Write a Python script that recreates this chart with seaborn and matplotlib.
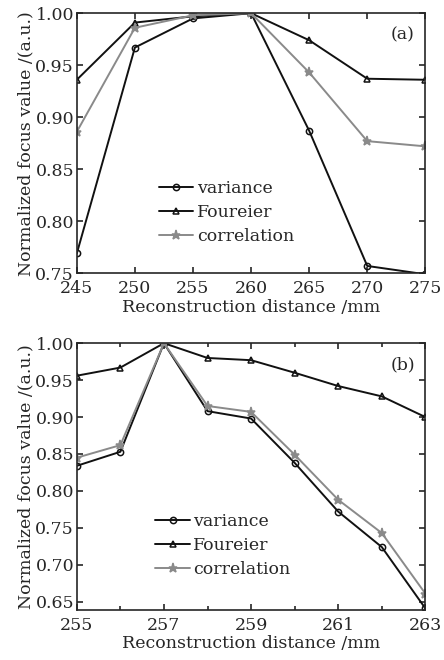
import pandas as pd
import matplotlib
matplotlib.use('Agg')
import matplotlib.pyplot as plt
import seaborn as sns

# panel (a)
dist_a = [245, 250, 255, 260, 265, 270, 275]
variance_a = [0.769, 0.967, 0.995, 1.0, 0.887, 0.757, 0.749]
fourier_a = [0.936, 0.991, 0.997, 1.0, 0.974, 0.937, 0.936]
correlation_a = [0.886, 0.986, 0.998, 1.0, 0.943, 0.877, 0.872]

# panel (b)
dist_b = [255, 256, 257, 258, 259, 260, 261, 262, 263]
variance_b = [0.834, 0.853, 1.0, 0.908, 0.898, 0.838, 0.772, 0.724, 0.641]
fourier_b = [0.956, 0.967, 1.0, 0.980, 0.977, 0.960, 0.942, 0.928, 0.900]
correlation_b = [0.845, 0.862, 1.0, 0.915, 0.907, 0.849, 0.788, 0.743, 0.661]

sns.set_style('ticks')
plt.rcParams['font.family'] = ['DejaVu Serif']

FS = 12.5

styles = {
    'variance': dict(color='#111111', marker='o', mfc='none', ms=4.5),
    'Foureier': dict(color='#111111', marker='^', mfc='none', ms=5),
    'correlation': dict(color='#8a8a8a', marker='*', ms=6.5),
}

fig = plt.figure(figsize=(4.44, 6.6), dpi=100)
ax_a = fig.add_axes([0.173, 0.586, 0.785, 0.394])
ax_b = fig.add_axes([0.173, 0.076, 0.785, 0.404])

leg_kw = dict(loc='lower left', frameon=False, fontsize=FS, handlelength=2.0,
              handletextpad=0.2, labelspacing=0.4, borderaxespad=0, borderpad=0)


def draw(ax, x, series):
    for name, vals in series.items():
        df = pd.DataFrame({'x': x, 'y': vals})
        st = styles[name]
        sns.lineplot(data=df, x='x', y='y', ax=ax, color=st['color'],
                     marker=st['marker'], markersize=st['ms'],
                     markerfacecolor=st.get('mfc', st['color']),
                     markeredgecolor=st['color'], markeredgewidth=1.1,
                     linewidth=1.4, label=name)
    ax.tick_params(direction='in', top=True, right=True, labelsize=FS,
                   length=4, width=1.2, pad=2)
    ax.tick_params(axis='x', pad=5)
    ax.tick_params(which='minor', direction='in', top=True, right=True,
                   length=3, width=1.2)
    for sp in ax.spines.values():
        sp.set_linewidth(1.2)
    ax.set_xlabel('Reconstruction distance /mm', fontsize=FS, labelpad=1)
    ax.set_ylabel('Normalized focus value /(a.u.)', fontsize=FS, labelpad=1)


draw(ax_a, dist_a, {'variance': variance_a, 'Foureier': fourier_a,
                    'correlation': correlation_a})
ax_a.set_xlim(245, 275)
ax_a.set_ylim(0.75, 1.0)
ax_a.set_xticks([245, 250, 255, 260, 265, 270, 275])
ax_a.set_yticks([0.75, 0.80, 0.85, 0.90, 0.95, 1.00])
ax_a.set_yticklabels(['0.75', '0.80', '0.85', '0.90', '0.95', '1.00'])
ax_a.legend(bbox_to_anchor=(0.235, 0.11), **leg_kw)
ax_a.text(0.97, 0.95, '(a)', transform=ax_a.transAxes, ha='right', va='top',
          fontsize=FS)

draw(ax_b, dist_b, {'variance': variance_b, 'Foureier': fourier_b,
                    'correlation': correlation_b})
ax_b.set_xlim(255, 263)
ax_b.set_ylim(0.639, 1.0)
ax_b.set_xticks([255, 257, 259, 261, 263])
ax_b.set_xticks([256, 258, 260, 262], minor=True)
ax_b.set_yticks([0.65, 0.70, 0.75, 0.80, 0.85, 0.90, 0.95, 1.00])
ax_b.set_yticklabels(['0.65', '0.70', '0.75', '0.80', '0.85', '0.90', '0.95', '1.00'])
ax_b.legend(bbox_to_anchor=(0.225, 0.12), **leg_kw)
ax_b.text(0.97, 0.95, '(b)', transform=ax_b.transAxes, ha='right', va='top',
          fontsize=FS)

fig.savefig('out.png', dpi=100)
